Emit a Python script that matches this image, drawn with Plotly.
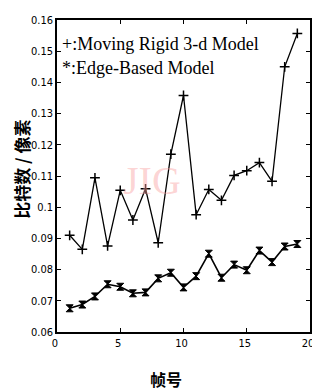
import plotly.graph_objects as go

frames = list(range(1, 20))
rigid_3d = [0.0910, 0.0865, 0.1094, 0.0876, 0.1054, 0.0959, 0.1059, 0.0886, 0.1170, 0.1358,
            0.0976, 0.1057, 0.1022, 0.1102, 0.1117, 0.1143, 0.1083, 0.1450, 0.1557]
edge_based = [0.0676, 0.0688, 0.0714, 0.0753, 0.0745, 0.0724, 0.0727, 0.0772, 0.0790, 0.0743,
              0.0779, 0.0851, 0.0774, 0.0816, 0.0798, 0.0861, 0.0824, 0.0874, 0.0882]
y_ticks = [0.06, 0.07, 0.08, 0.09, 0.10, 0.11, 0.12, 0.13, 0.14, 0.15, 0.16]
y_tick_labels = ["0.06", "0.07", "0.08", "0.09", "0.1", "0.11", "0.12", "0.13", "0.14", "0.15", "0.16"]
x_ticks = [0, 5, 10, 15, 20]
legend_labels = ["+:Moving Rigid 3-d Model", "*:Edge-Based Model"]

fig = go.Figure()
fig.add_trace(go.Scatter(x=frames, y=rigid_3d, mode="lines+markers",
                         line=dict(color="black", width=1.3),
                         marker=dict(symbol="cross-thin-open", size=7,
                                     line=dict(color="black", width=1.5)),
                         showlegend=False))
fig.add_trace(go.Scatter(x=frames, y=edge_based, mode="lines+markers",
                         line=dict(color="black", width=1.6),
                         marker=dict(symbol="hourglass", size=7, color="black",
                                     line=dict(color="black", width=1)),
                         showlegend=False))

axis_common = dict(showline=True, linecolor="black", linewidth=1.5, mirror="ticks",
                   ticks="inside", ticklen=4, tickcolor="black", showgrid=False,
                   zeroline=False, ticklabeloverflow="allow",
                   tickfont=dict(family="DejaVu Sans Condensed, Arial", size=11, color="black"))
fig.update_xaxes(range=[0, 20], tickvals=x_ticks, ticklabelshift=-2, **axis_common)
fig.update_yaxes(range=[0.06, 0.16], tickvals=y_ticks, ticktext=y_tick_labels, **axis_common)

# axis titles
fig.add_annotation(text="<b>帧号</b>", xref="paper", yref="paper", x=0.43, y=-0.151,
                   xanchor="center", yanchor="middle", showarrow=False,
                   font=dict(family="Noto Sans CJK SC", size=16, color="black"))
fig.add_annotation(text="<b>比特数 / 像素</b>", xref="paper", yref="paper", x=-0.138, y=0.52,
                   xanchor="center", yanchor="middle", showarrow=False, textangle=-90,
                   font=dict(family="Noto Sans CJK SC", size=17, color="black"))

for i, t in enumerate(legend_labels):
    fig.add_annotation(text=t, xref="paper", yref="paper", x=0.01, y=0.922 - i * 0.077,
                       xanchor="left", yanchor="middle", showarrow=False,
                       font=dict(family="Liberation Serif", size=18, color="black"))

fig.add_annotation(text="JIG", xref="x", yref="y", x=7.5, y=0.1087, showarrow=False,
                   font=dict(family="Liberation Serif", size=40, color="rgba(250,160,160,0.45)"))

# page body has an 8px margin, so the figure is drawn 8px smaller to fit the window
fig.update_layout(width=312, height=382, margin=dict(l=49, r=7, t=6, b=58),
                  plot_bgcolor="white", paper_bgcolor="white")
fig.write_html("out.html")
